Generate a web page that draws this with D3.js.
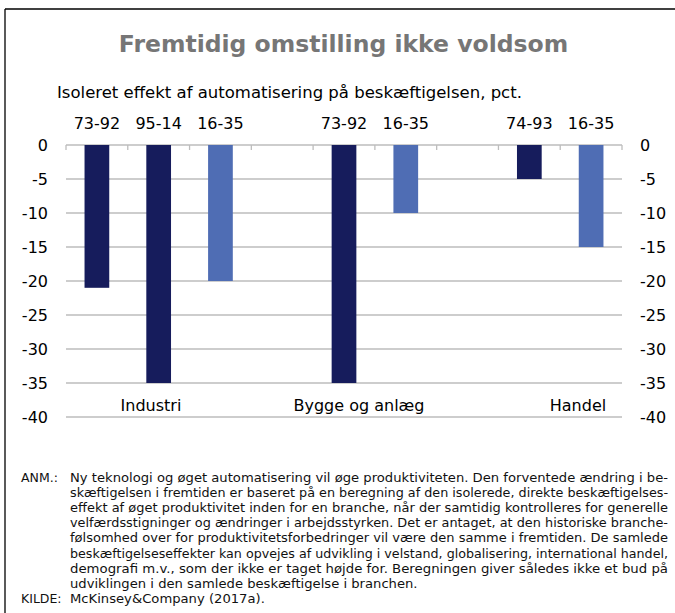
<!DOCTYPE html>
<html>
<head>
<meta charset="utf-8">
<script src="https://cdn.jsdelivr.net/npm/d3@7"></script>
<style>
  html, body { margin: 0; padding: 0; background: #fff; }
  svg { display: block; font-family: "DejaVu Sans", Verdana, sans-serif; }
</style>
</head>
<body>
<svg id="chart" width="675" height="613"></svg>
<script>
// Slots along the category axis (empty slots separate the three sectors)
const periods = ["73-92", "95-14", "16-35", "", "73-92", "16-35", "", "74-93", "16-35"];
const values  = [-21, -35, -20, null, -35, -10, null, -5, -15];
const kinds   = ["hist", "hist", "proj", null, "hist", "proj", null, "hist", "proj"];
const sectors = ["Industri", "Bygge og anlæg", "Handel"];
const yTicks  = [0, -5, -10, -15, -20, -25, -30, -35, -40];

const title = "Fremtidig omstilling ikke voldsom";
const subtitle = "Isoleret effekt af automatisering på beskæftigelsen, pct.";
const noteLines = [
  "Ny teknologi og øget automatisering vil øge produktiviteten. Den forventede ændring i be-",
  "skæftigelsen i fremtiden er baseret på en beregning af den isolerede, direkte beskæftigelses-",
  "effekt af øget produktivitet inden for en branche, når der samtidig kontrolleres for generelle",
  "velfærdsstigninger og ændringer i arbejdsstyrken. Det er antaget, at den historiske branche-",
  "følsomhed over for produktivitetsforbedringer vil være den samme i fremtiden. De samlede",
  "beskæftigelseseffekter kan opvejes af udvikling i velstand, globalisering, international handel,",
  "demografi m.v., som der ikke er taget højde for. Beregningen giver således ikke et bud på",
  "udviklingen i den samlede beskæftigelse i branchen."
];
const source = "McKinsey&Company (2017a).";

const colors = { hist: "#161c5c", proj: "#4f6db4" };

const svg = d3.select("#chart");

// Frame around the figure
svg.append("line").attr("x1", 5).attr("x2", 675).attr("y1", 9).attr("y2", 9)
  .attr("stroke", "#000").attr("stroke-width", 1.3);
svg.append("line").attr("x1", 5).attr("x2", 5).attr("y1", 9).attr("y2", 613)
  .attr("stroke", "#000").attr("stroke-width", 1.3);

// Titles
svg.append("text").attr("x", 343.5).attr("y", 52).attr("text-anchor", "middle")
  .attr("font-size", 23.5).attr("font-weight", "bold").attr("fill", "#767676")
  .text(title);
svg.append("text").attr("x", 57).attr("y", 98).attr("font-size", 16.5).attr("fill", "#000")
  .text(subtitle);

// Plot area
const plot = { left: 66, right: 622, top: 145, bottom: 417 };

const x = d3.scaleBand()
  .domain(d3.range(periods.length))
  .range([plot.left, plot.right])
  .paddingInner(0.6).paddingOuter(0.3);
const slot = d3.scaleBand().domain(d3.range(periods.length)).range([plot.left, plot.right]);

const y = d3.scaleLinear().domain([0, -40]).range([plot.top, plot.bottom]);

// Horizontal gridlines
svg.append("g").selectAll("line").data(yTicks).join("line")
  .attr("x1", plot.left).attr("x2", plot.right)
  .attr("y1", d => y(d)).attr("y2", d => y(d))
  .attr("stroke", "#bdbdbd").attr("stroke-width", 1.3);

// Category ticks hanging from the zero line
const tickPos = d3.range(periods.length + 1).map(i => plot.left + i * slot.step());
svg.append("g").selectAll("line").data(tickPos).join("line")
  .attr("x1", d => d).attr("x2", d => d)
  .attr("y1", y(0)).attr("y2", y(0) + 5)
  .attr("stroke", "#bdbdbd").attr("stroke-width", 1.3);

// Bars
const idx = d3.range(periods.length).filter(i => values[i] !== null);
svg.append("g").selectAll("rect").data(idx).join("rect")
  .attr("x", i => x(i))
  .attr("width", x.bandwidth())
  .attr("y", y(0))
  .attr("height", i => y(values[i]) - y(0))
  .attr("fill", i => colors[kinds[i]]);

// Period labels above the bars
svg.append("g").selectAll("text").data(idx).join("text")
  .attr("x", i => x(i) + x.bandwidth() / 2)
  .attr("y", 129)
  .attr("text-anchor", "middle").attr("font-size", 16)
  .text(i => periods[i]);

// Sector labels
const sectorX = [151, 359, 578];
svg.append("g").selectAll("text").data(sectors).join("text")
  .attr("x", (d, i) => sectorX[i]).attr("y", 411)
  .attr("text-anchor", "middle").attr("font-size", 16)
  .text(d => d);

// Value axes on both sides
const fmt = d => d3.format("d")(d).replace("−", "-");
svg.append("g").selectAll("text").data(yTicks).join("text")
  .attr("x", 48).attr("y", d => y(d)).attr("dy", "0.36em")
  .attr("text-anchor", "end").attr("font-size", 16)
  .text(fmt);
svg.append("g").selectAll("text").data(yTicks).join("text")
  .attr("x", 640).attr("y", d => y(d)).attr("dy", "0.36em")
  .attr("text-anchor", "start").attr("font-size", 16)
  .text(fmt);

// Note and source, justified text block
const noteLeft = 70, noteRight = 668, noteTop = 482, lineH = 15.1;
const note = svg.append("g").attr("font-size", 12.5).attr("fill", "#111");
note.append("text").attr("x", 21).attr("y", noteTop).text("ANM.:");
const lines = note.selectAll("text.l").data(noteLines).join("text").attr("class", "l")
  .attr("x", noteLeft).attr("y", (d, i) => noteTop + i * lineH).text(d => d);
const w0 = lines.nodes()[0].getComputedTextLength();
const squeeze = (noteRight - noteLeft) / w0;
lines.each(function(d, i) {
  const el = d3.select(this);
  const w = this.getComputedTextLength();
  const target = i < noteLines.length - 1 ? noteRight - noteLeft : w * squeeze;
  el.attr("textLength", target).attr("lengthAdjust", "spacingAndGlyphs");
});
const srcY = noteTop + noteLines.length * lineH;
note.append("text").attr("x", 21).attr("y", srcY).text("KILDE:");
const src = note.append("text").attr("x", noteLeft).attr("y", srcY).text(source);
src.attr("textLength", src.node().getComputedTextLength() * squeeze)
  .attr("lengthAdjust", "spacingAndGlyphs");
</script>
</body>
</html>
